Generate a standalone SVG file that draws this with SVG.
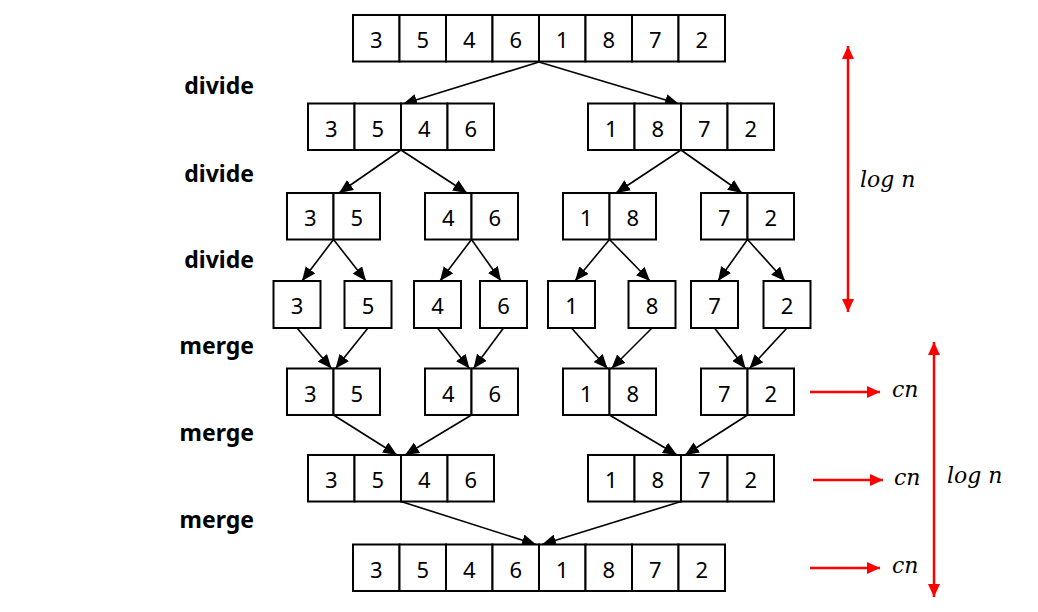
<svg xmlns="http://www.w3.org/2000/svg" width="1038" height="612" viewBox="0 0 1038 612">
<style>
.cell{fill:#fff;stroke:#000;stroke-width:2}
.num{font-family:"Noto Sans","Open Sans","DejaVu Sans",sans-serif;font-size:22px;text-anchor:middle;fill:#000}
.lbl{font-family:"Noto Sans","Open Sans","DejaVu Sans",sans-serif;font-size:23px;font-weight:bold;text-anchor:end;fill:#000}
.math{font-family:"DejaVu Serif","Liberation Serif",serif;font-style:italic;font-size:22px;fill:#000}
.edge{stroke:#000;stroke-width:1.6;fill:none;marker-end:url(#ah)}
.red{stroke:#f00;stroke-width:2.5;fill:none;marker-end:url(#rh)}
.red2{stroke:#f00;stroke-width:2.5;fill:none;marker-end:url(#rh);marker-start:url(#rh)}
</style>
<defs>
<marker id="ah" markerUnits="userSpaceOnUse" markerWidth="14" markerHeight="12" refX="14" refY="6" orient="auto"><path d="M0,0 L14,6 L0,12 z" fill="#000"/></marker>
<marker id="rh" markerUnits="userSpaceOnUse" markerWidth="13" markerHeight="12" refX="13" refY="6" orient="auto-start-reverse"><path d="M0,0 L13,6 L0,12 z" fill="#f00"/></marker>
</defs>
<rect width="1038" height="612" fill="#fff"/>

<g id="labels">
<text class="lbl" x="254" y="94">divide</text>
<text class="lbl" x="254" y="182">divide</text>
<text class="lbl" x="254" y="268">divide</text>
<text class="lbl" x="254" y="354">merge</text>
<text class="lbl" x="254" y="441">merge</text>
<text class="lbl" x="254" y="528">merge</text>
</g>

<g id="connectors">
<line class="edge" x1="539" y1="62" x2="403" y2="104"/>
<line class="edge" x1="539" y1="62" x2="679" y2="104"/>
<line class="edge" x1="401" y1="150" x2="339" y2="193"/>
<line class="edge" x1="401" y1="150" x2="467" y2="193"/>
<line class="edge" x1="681" y1="150" x2="616" y2="193"/>
<line class="edge" x1="681" y1="150" x2="742" y2="193"/>
<line class="edge" x1="333.5" y1="239.5" x2="302" y2="281"/>
<line class="edge" x1="333.5" y1="239.5" x2="366" y2="281"/>
<line class="edge" x1="471.5" y1="239.5" x2="440" y2="281"/>
<line class="edge" x1="471.5" y1="239.5" x2="501" y2="281"/>
<line class="edge" x1="609.5" y1="239.5" x2="575" y2="281"/>
<line class="edge" x1="609.5" y1="239.5" x2="650" y2="281"/>
<line class="edge" x1="747.5" y1="239.5" x2="718" y2="281"/>
<line class="edge" x1="747.5" y1="239.5" x2="785" y2="281"/>
<line class="edge" x1="297" y1="328" x2="331.5" y2="368.5"/>
<line class="edge" x1="368" y1="328" x2="335.5" y2="368.5"/>
<line class="edge" x1="437.5" y1="328" x2="469.5" y2="368.5"/>
<line class="edge" x1="503.5" y1="328" x2="473.5" y2="368.5"/>
<line class="edge" x1="571.5" y1="328" x2="607.5" y2="368.5"/>
<line class="edge" x1="652" y1="328" x2="611.5" y2="368.5"/>
<line class="edge" x1="714.5" y1="328" x2="745.5" y2="368.5"/>
<line class="edge" x1="787" y1="328" x2="749.5" y2="368.5"/>
<line class="edge" x1="333.5" y1="415" x2="397" y2="455"/>
<line class="edge" x1="471.5" y1="415" x2="405" y2="455"/>
<line class="edge" x1="609.5" y1="415" x2="677" y2="455"/>
<line class="edge" x1="747.5" y1="415" x2="685" y2="455"/>
<line class="edge" x1="401" y1="501.5" x2="536" y2="544.5"/>
<line class="edge" x1="681" y1="501.5" x2="542" y2="544.5"/>
</g>

<g id="annotations">
<line class="red2" x1="848" y1="46" x2="848" y2="312"/>
<text class="math" x="860" y="187">log n</text>
<line class="red2" x1="934" y1="342" x2="934" y2="597"/>
<text class="math" x="947" y="483">log n</text>
<line class="red" x1="810" y1="392" x2="880" y2="392"/>
<text class="math" x="892" y="397">cn</text>
<line class="red" x1="813" y1="480" x2="883" y2="480"/>
<text class="math" x="894" y="485">cn</text>
<line class="red" x1="810" y1="568" x2="880" y2="568"/>
<text class="math" x="892" y="573">cn</text>
</g>

<g id="n1">
<rect class="cell" x="353" y="15" width="46.5" height="46.5"/><rect class="cell" x="399.5" y="15" width="46.5" height="46.5"/><rect class="cell" x="446" y="15" width="46.5" height="46.5"/><rect class="cell" x="492.5" y="15" width="46.5" height="46.5"/><rect class="cell" x="539" y="15" width="46.5" height="46.5"/><rect class="cell" x="585.5" y="15" width="46.5" height="46.5"/><rect class="cell" x="632" y="15" width="46.5" height="46.5"/><rect class="cell" x="678.5" y="15" width="46.5" height="46.5"/>
<text class="num" x="376.25" y="48">3</text><text class="num" x="422.75" y="48">5</text><text class="num" x="469.25" y="48">4</text><text class="num" x="515.75" y="48">6</text><text class="num" x="562.25" y="48">1</text><text class="num" x="608.75" y="48">8</text><text class="num" x="655.25" y="48">7</text><text class="num" x="701.75" y="48">2</text>
</g>

<g id="n2a">
<rect class="cell" x="308" y="103.5" width="46.5" height="46.5"/><rect class="cell" x="354.5" y="103.5" width="46.5" height="46.5"/><rect class="cell" x="401" y="103.5" width="46.5" height="46.5"/><rect class="cell" x="447.5" y="103.5" width="46.5" height="46.5"/>
<text class="num" x="331.25" y="136.5">3</text><text class="num" x="377.75" y="136.5">5</text><text class="num" x="424.25" y="136.5">4</text><text class="num" x="470.75" y="136.5">6</text>
</g>
<g id="n2b">
<rect class="cell" x="588" y="103.5" width="46.5" height="46.5"/><rect class="cell" x="634.5" y="103.5" width="46.5" height="46.5"/><rect class="cell" x="681" y="103.5" width="46.5" height="46.5"/><rect class="cell" x="727.5" y="103.5" width="46.5" height="46.5"/>
<text class="num" x="611.25" y="136.5">1</text><text class="num" x="657.75" y="136.5">8</text><text class="num" x="704.25" y="136.5">7</text><text class="num" x="750.75" y="136.5">2</text>
</g>

<g id="n3a"><rect class="cell" x="287" y="193" width="46.5" height="46.5"/><rect class="cell" x="333.5" y="193" width="46.5" height="46.5"/><text class="num" x="310.25" y="226">3</text><text class="num" x="356.75" y="226">5</text></g>
<g id="n3b"><rect class="cell" x="425" y="193" width="46.5" height="46.5"/><rect class="cell" x="471.5" y="193" width="46.5" height="46.5"/><text class="num" x="448.25" y="226">4</text><text class="num" x="494.75" y="226">6</text></g>
<g id="n3c"><rect class="cell" x="563" y="193" width="46.5" height="46.5"/><rect class="cell" x="609.5" y="193" width="46.5" height="46.5"/><text class="num" x="586.25" y="226">1</text><text class="num" x="632.75" y="226">8</text></g>
<g id="n3d"><rect class="cell" x="701" y="193" width="46.5" height="46.5"/><rect class="cell" x="747.5" y="193" width="46.5" height="46.5"/><text class="num" x="724.25" y="226">7</text><text class="num" x="770.75" y="226">2</text></g>

<g id="n4a"><rect class="cell" x="273.5" y="281" width="47" height="47"/><text class="num" x="297" y="314">3</text></g>
<g id="n4b"><rect class="cell" x="344.5" y="281" width="47" height="47"/><text class="num" x="368" y="314">5</text></g>
<g id="n4c"><rect class="cell" x="414" y="281" width="47" height="47"/><text class="num" x="437.5" y="314">4</text></g>
<g id="n4d"><rect class="cell" x="480" y="281" width="47" height="47"/><text class="num" x="503.5" y="314">6</text></g>
<g id="n4e"><rect class="cell" x="548" y="281" width="47" height="47"/><text class="num" x="571.5" y="314">1</text></g>
<g id="n4f"><rect class="cell" x="628.5" y="281" width="47" height="47"/><text class="num" x="652" y="314">8</text></g>
<g id="n4g"><rect class="cell" x="691" y="281" width="47" height="47"/><text class="num" x="714.5" y="314">7</text></g>
<g id="n4h"><rect class="cell" x="763.5" y="281" width="47" height="47"/><text class="num" x="787" y="314">2</text></g>

<g id="n5a"><rect class="cell" x="287" y="368.5" width="46.5" height="46.5"/><rect class="cell" x="333.5" y="368.5" width="46.5" height="46.5"/><text class="num" x="310.25" y="401.5">3</text><text class="num" x="356.75" y="401.5">5</text></g>
<g id="n5b"><rect class="cell" x="425" y="368.5" width="46.5" height="46.5"/><rect class="cell" x="471.5" y="368.5" width="46.5" height="46.5"/><text class="num" x="448.25" y="401.5">4</text><text class="num" x="494.75" y="401.5">6</text></g>
<g id="n5c"><rect class="cell" x="563" y="368.5" width="46.5" height="46.5"/><rect class="cell" x="609.5" y="368.5" width="46.5" height="46.5"/><text class="num" x="586.25" y="401.5">1</text><text class="num" x="632.75" y="401.5">8</text></g>
<g id="n5d"><rect class="cell" x="701" y="368.5" width="46.5" height="46.5"/><rect class="cell" x="747.5" y="368.5" width="46.5" height="46.5"/><text class="num" x="724.25" y="401.5">7</text><text class="num" x="770.75" y="401.5">2</text></g>

<g id="n6a">
<rect class="cell" x="308" y="455" width="46.5" height="46.5"/><rect class="cell" x="354.5" y="455" width="46.5" height="46.5"/><rect class="cell" x="401" y="455" width="46.5" height="46.5"/><rect class="cell" x="447.5" y="455" width="46.5" height="46.5"/>
<text class="num" x="331.25" y="488">3</text><text class="num" x="377.75" y="488">5</text><text class="num" x="424.25" y="488">4</text><text class="num" x="470.75" y="488">6</text>
</g>
<g id="n6b">
<rect class="cell" x="588" y="455" width="46.5" height="46.5"/><rect class="cell" x="634.5" y="455" width="46.5" height="46.5"/><rect class="cell" x="681" y="455" width="46.5" height="46.5"/><rect class="cell" x="727.5" y="455" width="46.5" height="46.5"/>
<text class="num" x="611.25" y="488">1</text><text class="num" x="657.75" y="488">8</text><text class="num" x="704.25" y="488">7</text><text class="num" x="750.75" y="488">2</text>
</g>

<g id="n7">
<rect class="cell" x="353" y="544.5" width="46.5" height="46.5"/><rect class="cell" x="399.5" y="544.5" width="46.5" height="46.5"/><rect class="cell" x="446" y="544.5" width="46.5" height="46.5"/><rect class="cell" x="492.5" y="544.5" width="46.5" height="46.5"/><rect class="cell" x="539" y="544.5" width="46.5" height="46.5"/><rect class="cell" x="585.5" y="544.5" width="46.5" height="46.5"/><rect class="cell" x="632" y="544.5" width="46.5" height="46.5"/><rect class="cell" x="678.5" y="544.5" width="46.5" height="46.5"/>
<text class="num" x="376.25" y="577.5">3</text><text class="num" x="422.75" y="577.5">5</text><text class="num" x="469.25" y="577.5">4</text><text class="num" x="515.75" y="577.5">6</text><text class="num" x="562.25" y="577.5">1</text><text class="num" x="608.75" y="577.5">8</text><text class="num" x="655.25" y="577.5">7</text><text class="num" x="701.75" y="577.5">2</text>
</g>
</svg>
